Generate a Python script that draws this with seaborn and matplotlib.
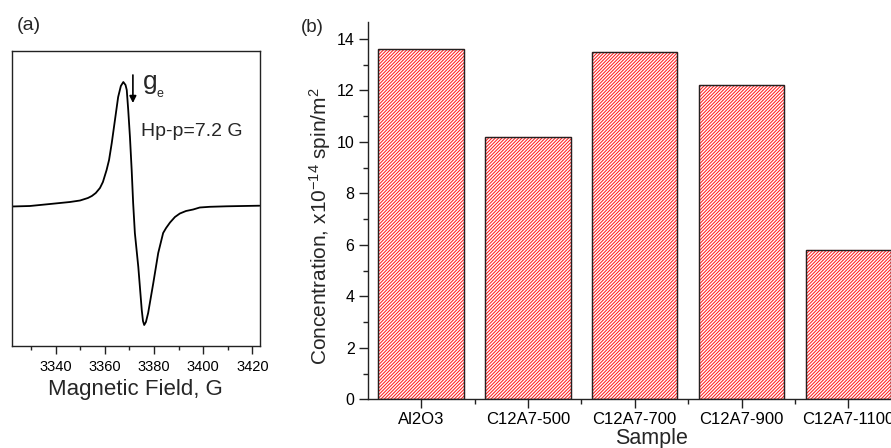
import numpy as np
import pandas as pd
import matplotlib
matplotlib.use("Agg")
import matplotlib.pyplot as plt
from matplotlib.patches import Rectangle
from matplotlib.ticker import AutoMinorLocator, FixedLocator, MultipleLocator
import seaborn as sns

# ---------------- data ----------------
# (a) EPR derivative spectrum (arbitrary units)
field = [3322.1, 3329.5, 3337.7, 3345.8, 3349.9, 3353.1, 3354.7, 3356.3, 3358.0,
         3359.2, 3360.7, 3361.7, 3362.8, 3364.1, 3365.4, 3366.5, 3367.5, 3368.4,
         3368.9, 3369.5, 3370.2, 3370.9, 3371.5, 3372.2, 3373.6, 3375.0, 3375.5,
         3376.0, 3376.7, 3377.6, 3379.7, 3381.7, 3383.7, 3384.9, 3386.5, 3388.5,
         3390.5, 3393.0, 3395.9, 3398.6, 3402.7, 3409.5, 3422.9]
intensity = [-0.005, 0.0, 0.02, 0.04, 0.055, 0.08, 0.10, 0.13, 0.18,
             0.24, 0.36, 0.46, 0.63, 0.86, 1.09, 1.20, 1.24, 1.21,
             1.16, 0.96, 0.69, 0.36, 0.03, -0.27, -0.61, -1.04, -1.15,
             -1.19, -1.16, -1.07, -0.77, -0.47, -0.27, -0.22, -0.165, -0.11,
             -0.075, -0.05, -0.035, -0.015, -0.008, -0.003, 0.003]

# (b) spin concentration
samples = ["Al2O3", "C12A7-500", "C12A7-700", "C12A7-900", "C12A7-1100"]
concentration = [13.6, 10.2, 13.5, 12.2, 5.8]

# ---------------- style ----------------
sns.set_theme(style="ticks")
plt.rcParams["font.family"] = ["Liberation Sans", "DejaVu Sans"]
plt.rcParams["mathtext.fontset"] = "custom"
plt.rcParams["mathtext.rm"] = "Liberation Sans"
plt.rcParams["mathtext.it"] = "Liberation Sans:italic"
plt.rcParams["hatch.linewidth"] = 0.75
plt.rcParams["axes.edgecolor"] = "#222222"
plt.rcParams["xtick.color"] = "#222222"
plt.rcParams["ytick.color"] = "#222222"
plt.rcParams["xtick.labelcolor"] = "black"
plt.rcParams["ytick.labelcolor"] = "black"

W, H = 891, 448
fig = plt.figure(figsize=(W / 100, H / 100), dpi=100)

def box(l, t, r, b):
    return [l / W, 1 - b / H, (r - l) / W, (b - t) / H]

# ---------------- panel (a) ----------------
axa = fig.add_axes(box(11.7, 50.7, 260, 346))
df_a = pd.DataFrame({"field": field, "intensity": intensity})
sns.lineplot(data=df_a, x="field", y="intensity", ax=axa, color="black", linewidth=1.3)
axa.set_xlim(3322.1, 3423.1)
axa.set_ylim(-1.40, 1.553)
axa.set_yticks([])
axa.xaxis.set_major_locator(MultipleLocator(20))
axa.xaxis.set_minor_locator(AutoMinorLocator(2))
axa.tick_params(axis="x", which="major", direction="out", length=6, width=1, labelsize=10.5, pad=4)
axa.tick_params(axis="x", which="minor", direction="out", length=3, width=1)
axa.set_xlabel("Magnetic Field, G", fontsize=16, labelpad=4)
axa.set_ylabel("")
for s in axa.spines.values():
    s.set_linewidth(1.0)

axa.annotate("", xy=(3371.4, 1.03), xytext=(3371.4, 1.31),
             arrowprops=dict(arrowstyle="-|>", color="black", lw=1.2, mutation_scale=10,
                             shrinkA=0, shrinkB=0))
axa.text(3375.3, 1.17, "g", fontsize=19, ha="left", va="baseline")
axa.text(3381.2, 1.09, "e", fontsize=9, ha="left", va="baseline")
axa.text(3374.7, 0.75, "Hp-p=7.2 G", fontsize=14, ha="left", va="center")
fig.text(29 / W, 1 - 25 / H, "(a)", fontsize=14, ha="center", va="center")

# ---------------- panel (b) ----------------
axb = fig.add_axes(box(367.7, 22, 901.7, 399.3))
sns.barplot(x=samples, y=concentration, ax=axb, width=0.8, color="white",
            edgecolor="#ff2020", linewidth=0.8, hatch="//////////", saturation=1)
for p in list(axb.patches):
    axb.add_patch(Rectangle(p.get_xy(), p.get_width(), p.get_height(),
                            fill=False, edgecolor="#222222", linewidth=1.0, zorder=3))
axb.set_xlim(-0.5, 4.5)
axb.set_ylim(0, 14.66)
axb.yaxis.set_major_locator(MultipleLocator(2))
axb.yaxis.set_minor_locator(AutoMinorLocator(2))
axb.xaxis.set_minor_locator(FixedLocator([0.5, 1.5, 2.5, 3.5]))
axb.tick_params(axis="both", which="major", direction="out", length=6.5, width=1)
axb.tick_params(axis="both", which="minor", direction="out", length=3.5, width=1)
axb.tick_params(axis="x", labelsize=12, pad=3)
axb.tick_params(axis="y", labelsize=11.5, pad=3)
axb.spines["top"].set_visible(False)
axb.spines["right"].set_visible(False)
for s in ("left", "bottom"):
    axb.spines[s].set_linewidth(1.0)
axb.set_xlabel("Sample", fontsize=15.5)
axb.xaxis.set_label_coords(0.532, -0.077)
axb.set_ylabel(r"Concentration, x10$^{-14}$ spin/m$^{2}$", fontsize=15)
axb.yaxis.set_label_coords(-0.065, 0.458)
fig.text(312 / W, 1 - 27 / H, "(b)", fontsize=13.5, ha="center", va="center")

fig.savefig("out.png", dpi=100)
